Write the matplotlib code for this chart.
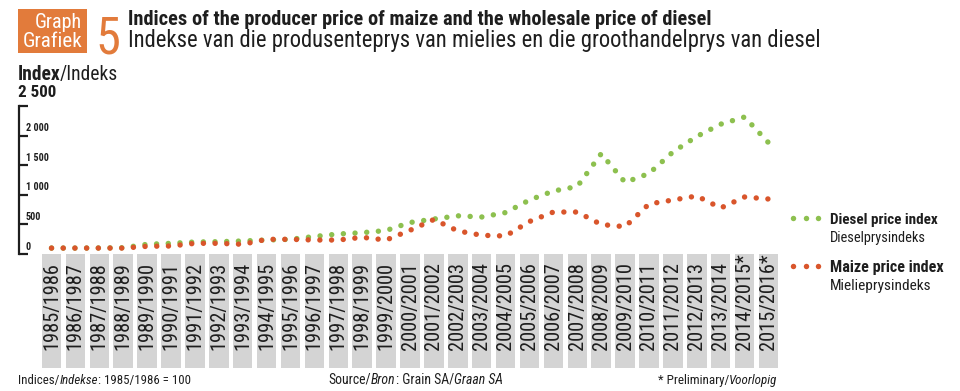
import matplotlib
matplotlib.use("Agg")
import matplotlib.pyplot as plt
from matplotlib import font_manager
from matplotlib.lines import Line2D
from matplotlib.patches import Rectangle

# ---------------- data ----------------
seasons = ["1985/1986", "1986/1987", "1987/1988", "1988/1989", "1989/1990",
           "1990/1991", "1991/1992", "1992/1993", "1993/1994", "1994/1995",
           "1995/1996", "1996/1997", "1997/1998", "1998/1999", "1999/2000",
           "2000/2001", "2001/2002", "2002/2003", "2003/2004", "2004/2005",
           "2005/2006", "2006/2007", "2007/2008", "2008/2009", "2009/2010",
           "2010/2011", "2011/2012", "2012/2013", "2013/2014", "2014/2015*",
           "2015/2016*"]
diesel = [100, 100, 102, 105, 164, 180, 203, 208, 220, 236, 248, 296, 338, 360,
          397, 532, 591, 645, 625, 700, 912, 1064, 1140, 1694, 1210, 1360, 1723,
          1986, 2193, 2314, 1880]
maize = [100, 100, 100, 100, 130, 135, 180, 180, 164, 248, 248, 236, 236, 282,
         236, 400, 583, 390, 316, 304, 549, 709, 709, 498, 461, 845, 912, 980,
         777, 963, 929]
y_ticks = [0, 500, 1000, 1500, 2000, 2500]
y_tick_labels = ["0", "500", "1 000", "1 500", "2 000"]

GREEN = "#8dc04f"
ORANGE = "#d9552b"
BOXCOL = "#e27b3b"
GRAY = "#d4d4d4"
INK = "#1e1e1e"

W, H = 960, 391
fig = plt.figure(figsize=(W / 100, H / 100), dpi=100)
fig.patch.set_facecolor("white")
renderer = fig.canvas.get_renderer()

names = {f.name for f in font_manager.fontManager.ttflist}


def pick(*cands):
    for n in cands:
        if n in names:
            return n
    return "DejaVu Sans"


NARROW = pick("Liberation Sans Narrow", "DejaVu Sans Condensed", "Roboto Condensed")
MAIN = NARROW


def fx(x):
    return x / W


def fy(y):
    return 1 - y / H


def runs_text(x, y, runs, size=10, target_w=None, family=MAIN, color=INK, ha="left"):
    def build(sz):
        arts = []
        cx = x
        for s, kw in runs:
            cx += kw.get("dx", 0)
            t = fig.text(fx(cx), fy(y), s, fontsize=sz, family=kw.get("family", family),
                         color=kw.get("color", color),
                         fontweight=kw.get("weight", "normal"),
                         fontstyle=kw.get("style", "normal"),
                         va="baseline", ha="left")
            w = t.get_window_extent(renderer).width
            arts.append(t)
            cx += w
        return arts, cx - x

    arts, w = build(size)
    if target_w:
        for _ in range(2):
            for a in arts:
                a.remove()
            size = size * target_w / w
            arts, w = build(size)
    if ha == "right":
        for a in arts:
            px_, py_ = a.get_position()
            a.set_position((px_ - w / W, py_))
    return arts


# ---------------- header ----------------
fig.add_artist(Rectangle((fx(18), fy(53)), 69 / W, 44 / H, transform=fig.transFigure,
                         facecolor=BOXCOL, edgecolor="none"))
runs_text(82, 28.5, [("Graph", {})], target_w=47, color="white", ha="right")
runs_text(82, 46.7, [("Grafiek", {})], target_w=60, color="white", ha="right")
runs_text(95, 53.3, [("5", {})], target_w=25, color=BOXCOL, family=NARROW)
runs_text(128, 25, [("Indices of the producer price of maize and the wholesale price of diesel",
                     {"weight": "bold"})], target_w=584)
runs_text(128, 46.5, [("Indekse van die produsenteprys van mielies en die groothandelprys van diesel",
                       {})], target_w=694)
runs_text(18, 80, [("Index", {"weight": "bold"}), ("/Indeks", {"dx": -1})], target_w=100)
runs_text(18, 96.7, [("2 500", {"weight": "bold"})], target_w=39)

# ---------------- plot area ----------------
X_LEFT, X_RIGHT = 19, 780
Y_TOP, Y_BOT = 106, 254
C0, CSTEP = 51.5, 23.9
xmin = -(C0 - X_LEFT) / CSTEP
xmax = (X_RIGHT - C0) / CSTEP
ax = fig.add_axes([fx(X_LEFT), fy(Y_BOT), (X_RIGHT - X_LEFT) / W, (Y_BOT - Y_TOP) / H])
ax.set_xlim(xmin, xmax)
ax.set_ylim(y_ticks[0], y_ticks[-1])
ax.patch.set_alpha(0)
for s in ("top", "right", "bottom"):
    ax.spines[s].set_visible(False)
ax.spines["left"].set_linewidth(1.6)
ax.spines["left"].set_color(INK)
ax.set_xticks([])
ax.set_yticks(y_ticks)
ax.tick_params(axis="y", direction="in", length=6.8, width=1.6, color=INK, labelleft=False)

xs = list(range(len(seasons)))
for vals, col in ((diesel, GREEN), (maize, ORANGE)):
    ax.plot(xs, vals, color=col, lw=3.9, dashes=(0.01, 2.15), dash_capstyle="round",
            clip_on=False, zorder=3)


def ypix(v):
    return Y_BOT - (v - y_ticks[0]) / (y_ticks[-1] - y_ticks[0]) * (Y_BOT - Y_TOP)


tmp = runs_text(0, 0, [("2 000", {"weight": "bold"})], target_w=23, family=NARROW)
lab_size = tmp[0].get_fontsize()
for a in tmp:
    a.remove()
for v, lab in zip(y_ticks[:-1], y_tick_labels):
    fig.text(fx(26), fy(ypix(v) - 4.5), lab, fontsize=lab_size, family=NARROW,
             fontweight="bold", color=INK, va="baseline", ha="left")

# ---------------- category boxes ----------------
BOX_TOP, BOX_BOT = 254, 368
ax2 = fig.add_axes([fx(X_LEFT), fy(BOX_BOT), (X_RIGHT - X_LEFT) / W, (BOX_BOT - BOX_TOP) / H])
ax2.set_xlim(xmin, xmax)
ax2.set_ylim(0, 1)
ax2.axis("off")
ax2.bar(xs, [1] * len(xs), width=19.5 / CSTEP, bottom=0, color=GRAY, align="center")

tmp = runs_text(0, 0, [("1985/1986", {})], target_w=88, family=NARROW)
yr_size = tmp[0].get_fontsize()
for a in tmp:
    a.remove()
for i, s in enumerate(seasons):
    ax2.text(i, (BOX_BOT - 350) / (BOX_BOT - BOX_TOP), s, rotation=90, ha="center",
             va="bottom", fontsize=yr_size, family=NARROW, color=INK)

# ---------------- legend ----------------
for yy, col in ((218.3, GREEN), (265.7, ORANGE)):
    fig.add_artist(Line2D([fx(793.3), fx(806), fx(818.3)], [fy(yy)] * 3, transform=fig.transFigure,
                          linestyle="none", marker="o", markersize=3.9, color=col,
                          markeredgewidth=0))
runs_text(830, 224, [("Diesel price index", {"weight": "bold"})], target_w=108)
runs_text(830, 241.7, [("Dieselprysindeks", {})], target_w=96.7)
runs_text(830, 271.7, [("Maize price index", {"weight": "bold"})], target_w=114)
runs_text(830, 290, [("Mielieprysindeks", {})], target_w=101.7)

# ---------------- footer ----------------
runs_text(18.3, 384, [("Indices/", {}), ("Indekse", {"style": "italic"}),
                      (": 1985/1986 = 100", {})], target_w=173.4)
runs_text(328.3, 384, [("Source/", {}), ("Bron", {"style": "italic"}),
                       (": Grain SA/", {}), ("Graan SA", {"style": "italic"})], target_w=173.4)
runs_text(777.7, 384, [("* Preliminary/", {}), ("Voorlopig", {"style": "italic"})],
          target_w=119.4, ha="right")

fig.savefig("out.png", dpi=100, facecolor="white")
